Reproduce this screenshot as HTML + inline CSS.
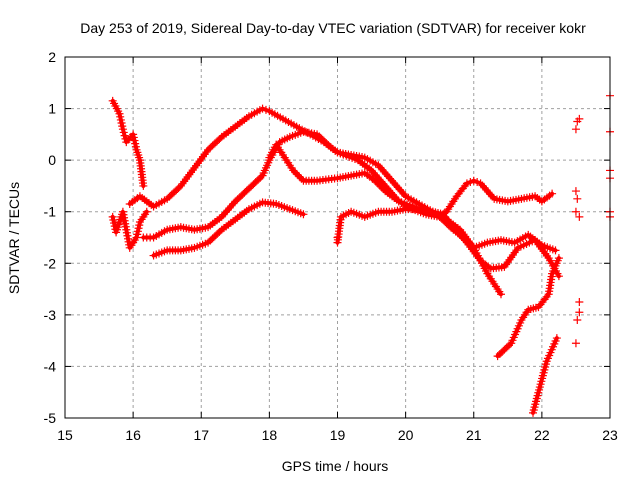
<!DOCTYPE html>
<html><head><meta charset="utf-8"><style>
body{margin:0;background:#fff}
svg{display:block;font-family:"Liberation Sans",sans-serif}
</style></head><body>
<svg id="chart" width="640" height="480">
<text x="333" y="33" font-size="14" text-anchor="middle">Day 253 of 2019, Sidereal Day-to-day VTEC variation (SDTVAR) for receiver kokr</text>
<text x="335" y="471" font-size="14" text-anchor="middle">GPS time / hours</text>
<text transform="translate(19,238) rotate(-90)" font-size="14" text-anchor="middle">SDTVAR / TECUs</text>
<g id="grid"></g><g id="ticks"></g><g id="marks"></g>
<rect x="65" y="57" width="545" height="361" fill="none" stroke="#000"/>
</svg>
<script>
const xTicks=[15,16,17,18,19,20,21,22,23];
const yTicks=[2,1,0,-1,-2,-3,-4,-5];
const trackA=[[15.95,-0.85],[16.1,-0.7],[16.3,-0.9],[16.5,-0.75],[16.7,-0.5],[16.9,-0.15],[17.1,0.2],[17.3,0.45],[17.5,0.65],[17.7,0.85],[17.9,1.0],[18.0,0.95],[18.2,0.8],[18.4,0.65],[18.6,0.5],[18.8,0.35],[19.0,0.15],[19.2,0.1],[19.4,0.05],[19.6,-0.1],[19.8,-0.4],[20.0,-0.7],[20.2,-0.85],[20.4,-1.0],[20.6,-1.15],[20.8,-1.35],[21.0,-1.7],[21.2,-2.2],[21.4,-2.6]];
const trackB=[[16.15,-1.5],[16.3,-1.5],[16.5,-1.35],[16.7,-1.3],[16.9,-1.35],[17.1,-1.3],[17.3,-1.1],[17.5,-0.8],[17.7,-0.55],[17.9,-0.3],[18.0,0.0],[18.15,0.35],[18.3,0.45],[18.5,0.55],[18.7,0.5],[18.9,0.25],[19.0,0.15],[19.3,0.0],[19.5,-0.2],[19.7,-0.5],[19.9,-0.8],[20.1,-0.95],[20.3,-1.05],[20.5,-1.1],[20.7,-1.35],[20.9,-1.55],[21.0,-1.7],[21.2,-1.6],[21.4,-1.55],[21.6,-1.6],[21.8,-1.45],[22.0,-1.65],[22.2,-1.75]];
const trackC=[[16.3,-1.85],[16.5,-1.75],[16.7,-1.75],[16.9,-1.7],[17.1,-1.6],[17.3,-1.35],[17.5,-1.15],[17.7,-0.95],[17.9,-0.82],[18.1,-0.85],[18.3,-0.95],[18.5,-1.05]];
const trackD=[[18.0,0.05],[18.1,0.3],[18.2,0.1],[18.35,-0.2],[18.5,-0.4],[18.7,-0.4],[19.0,-0.35],[19.2,-0.3],[19.4,-0.25],[19.55,-0.4],[19.7,-0.6],[19.9,-0.8],[20.1,-0.9],[20.3,-1.0],[20.5,-1.1],[20.6,-1.0],[20.75,-0.7],[20.9,-0.45],[21.0,-0.4],[21.1,-0.45],[21.3,-0.75],[21.5,-0.8],[21.7,-0.75],[21.9,-0.7],[22.0,-0.8],[22.15,-0.65]];
const trackE=[[19.0,-1.6],[19.05,-1.1],[19.2,-1.0],[19.4,-1.1],[19.6,-1.0],[19.8,-1.0],[20.0,-0.95],[20.2,-0.95],[20.4,-1.0],[20.55,-1.05],[20.7,-1.3],[20.9,-1.6],[21.1,-1.95],[21.25,-2.1],[21.45,-2.07],[21.65,-1.7],[21.9,-1.55],[22.1,-1.9],[22.25,-2.25]];
const trackF=[[21.35,-3.8],[21.55,-3.55],[21.7,-3.1],[21.8,-2.9],[21.95,-2.85],[22.1,-2.6],[22.15,-2.2],[22.25,-1.9]];
const trackG=[[21.87,-4.9],[21.97,-4.4],[22.07,-3.9],[22.22,-3.45]];
const trackH=[[15.7,1.15],[15.8,0.9],[15.85,0.6],[15.9,0.35],[16.0,0.5],[16.05,0.2],[16.1,0.0],[16.15,-0.5]];
const trackI=[[15.7,-1.1],[15.75,-1.4],[15.8,-1.2],[15.85,-1.0],[15.95,-1.7],[16.05,-1.5],[16.1,-1.2],[16.2,-1.0]];
const scatter=[[22.5,0.6],[22.52,0.75],[22.55,0.8],[22.5,-0.6],[22.52,-0.75],[22.5,-1.0],[22.55,-1.1],[22.5,-3.55],[22.52,-3.1],[22.55,-2.95],[22.55,-2.75],[23,1.25],[23,0.55],[23,-0.2],[23,-0.35],[23,-1.0],[23,-1.1],[19.0,-1.5]];
const tracks=[trackA,trackB,trackC,trackD,trackE,trackF,trackG,trackH,trackI];
const NS='http://www.w3.org/2000/svg';
const X0=65,X1=610,Y0=418,Y1=57;
const sx=v=>X0+(v-15)/8*(X1-X0);
const sy=v=>Y0-(v+5)/7*(Y0-Y1);
function mk(tag,attrs,parent){const e=document.createElementNS(NS,tag);for(const k in attrs)e.setAttribute(k,attrs[k]);parent.appendChild(e);return e;}
const grid=document.getElementById('grid'),ticks=document.getElementById('ticks'),marks=document.getElementById('marks');
xTicks.forEach(t=>{const x=sx(t);
 if(t>15&&t<23){const g=mk('line',{x1:x,x2:x,y1:Y1,y2:Y0,stroke:'#a0a0a0','stroke-dasharray':'3,3'},grid);
 
 }
 mk('line',{x1:x,x2:x,y1:Y0,y2:Y0-6,stroke:'#000'},ticks);
 mk('line',{x1:x,x2:x,y1:Y1,y2:Y1+6,stroke:'#000'},ticks);
 const l=mk('text',{x:x,y:Y0+22,'font-size':14,'text-anchor':'middle'},ticks);l.textContent=t;
 
 });
yTicks.forEach(t=>{const y=sy(t);
 if(t<2&&t>-5){const g=mk('line',{x1:X0,x2:X1,y1:y,y2:y,stroke:'#a0a0a0','stroke-dasharray':'3,3'},grid);
 
 }
 mk('line',{x1:X0,x2:X0+6,y1:y,y2:y,stroke:'#000'},ticks);
 mk('line',{x1:X1,x2:X1-6,y1:y,y2:y,stroke:'#000'},ticks);
 const l=mk('text',{x:X0-9,y:y+5,'font-size':14,'text-anchor':'end'},ticks);l.textContent=t;
 
 });
function plusAt(x,y,p){
 const m=mk('path',{d:`M${x-4},${y}h8M${x},${y-4}v8`,stroke:'#f00','stroke-width':1.2},p);
 
 }
function plus(v,p){plusAt(sx(v[0]),sy(v[1]),p);}
tracks.forEach((tr,i)=>{
 const g=mk('g',{},marks);
 
 
 mk('polyline',{points:tr.map(v=>sx(v[0])+','+sy(v[1])).join(' '),fill:'none',stroke:'#f00','stroke-width':4,'stroke-linejoin':'round','stroke-linecap':'round'},g);
 for(let k=0;k<tr.length-1;k++){
  const xa=sx(tr[k][0]),ya=sy(tr[k][1]),xb=sx(tr[k+1][0]),yb=sy(tr[k+1][1]);
  const n=Math.max(1,Math.round(Math.hypot(xb-xa,yb-ya)/3));
  for(let j=0;j<n;j++){const f=j/n;plusAt(xa+(xb-xa)*f,ya+(yb-ya)*f,g);}
 }
 plus(tr[tr.length-1],g);});
const sg=mk('g',{},marks);


scatter.forEach(v=>plus(v,sg));
</script>
</body></html>
